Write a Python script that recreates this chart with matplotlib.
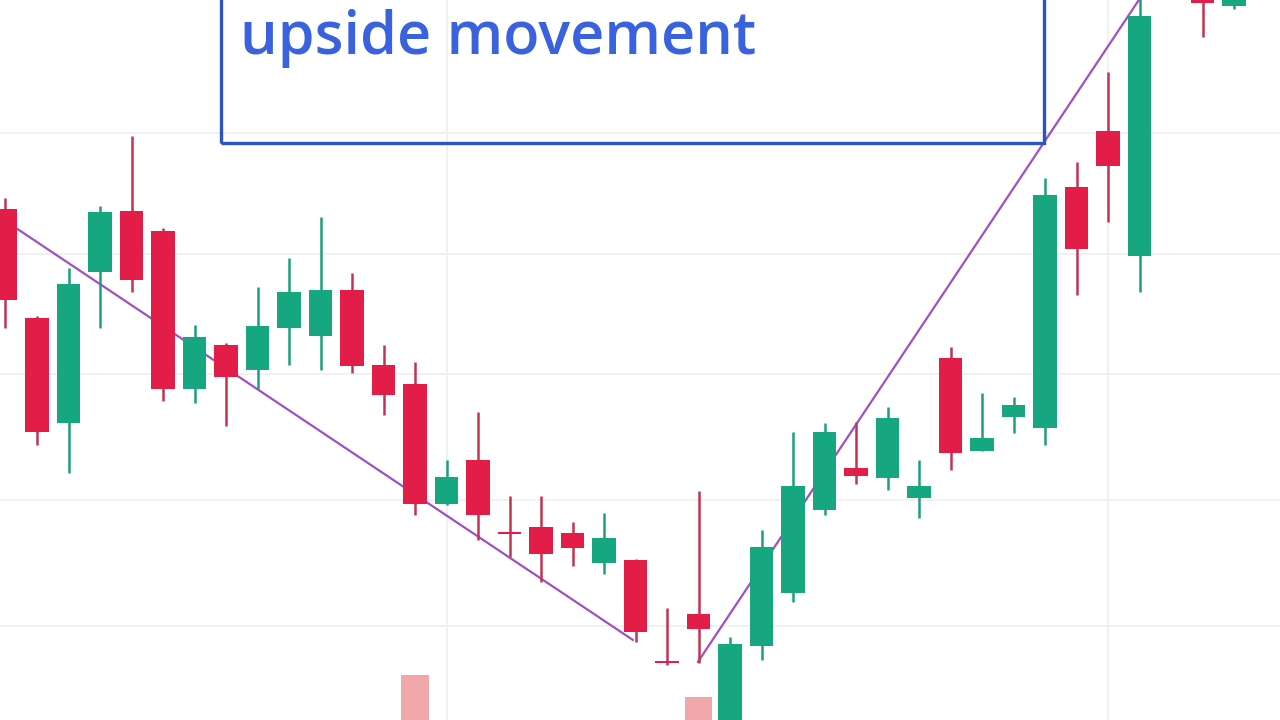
import matplotlib
matplotlib.use("Agg")
import matplotlib.pyplot as plt
from matplotlib.patches import Rectangle

# ---- data (candles, left to right) ----
opens  = [1511,1402,1297,1448,1509,1489,1331,1375,1350,1392,1384,1430,1355,1336,1216,1260,1188,1193,1187,1157,
          1160,1059,1106,980,1074,1127,1210,1252,1242,1222,1362,1269,1303,1292,1533,1589,1464,1740,1752,1714]
highs  = [1522,1404,1452,1514,1584,1492,1395,1377,1433,1462,1503,1447,1375,1358,1260,1308,1224,1224,1198,1207,
          1161,1112,1229,1083,1190,1288,1297,1298,1313,1260,1373,1327,1323,1542,1558,1648,1725,1772,1760,1750]
lows   = [1392,1275,1247,1392,1428,1319,1317,1294,1331,1355,1350,1347,1305,1205,1215,1180,1163,1138,1154,1146,
          1078,1055,1057,970,1060,1118,1205,1236,1230,1202,1250,1269,1287,1275,1425,1498,1428,1732,1683,1711]
closes = [1420,1288,1436,1508,1440,1331,1383,1343,1394,1428,1430,1354,1325,1216,1243,1205,1186,1166,1172,1182,
          1088,1057,1091,1076,1173,1234,1288,1244,1302,1234,1267,1282,1315,1525,1471,1554,1704,1758,1717,1740]

# visible volume bars (index, volume)
vol_index = [13, 22]
volumes = [1.0e6, 0.51e6]

# trend lines drawn on the chart (candle index, price)
trend1_x = [0.38, 19.92]
trend1_y = [1491, 1080]
trend2_x = [21.98, 36.0]
trend2_y = [1058, 1721]

# price grid levels and time grid positions
grid_prices = [1094, 1220, 1346, 1466, 1587]
grid_times = [14, 35]

# annotation box and text
box_x = [6.84, 32.97]
box_y = [1577, 1800]
note_text = "upside movement"
note_x = 7.45
note_y = 1666

# ---- style ----
GREEN = "#16a680"
RED = "#e11d48"
GREEN_WICK = "#1c9f7e"
RED_WICK = "#c23350"
VOL_RED = "#efa7a9"
TREND = "#a050c4"
BOX = "#2d52c2"
TEXT = "#3a62df"

fig = plt.figure(figsize=(12.8, 7.2), dpi=100)
ax_vol = fig.add_axes([0, 0, 1, 1])
ax = fig.add_axes([0, 0, 1, 1])
ax.patch.set_visible(False)
fig.patch.set_facecolor("white")

xmin, xmax = -0.1746, 40.46
ax.set_xlim(xmin, xmax)
ax.set_ylim(1000, 1720)
ax_vol.set_xlim(xmin, xmax)
ax_vol.set_ylim(0, 16e6)

for a in (ax, ax_vol):
    a.set_xticks([])
    a.set_yticks([])
    for s in a.spines.values():
        s.set_visible(False)

# grid
for gp in grid_prices:
    ax.axhline(gp, color="#f0f0f0", lw=1.3, zorder=0)
for gt in grid_times:
    ax.axvline(gt, color="#f0f0f0", lw=1.3, zorder=0)

# volume
ax_vol.bar(vol_index, volumes, width=0.86, color=VOL_RED, zorder=1)

# trend lines (beneath the candles)
ax.plot(trend1_x, trend1_y, color=TREND, lw=1.6, zorder=1.5, solid_capstyle="round")
ax.plot(trend2_x, trend2_y, color=TREND, lw=1.6, zorder=1.5, solid_capstyle="round")

# candles
body_w = 0.76
for i, (o, h, l, c) in enumerate(zip(opens, highs, lows, closes)):
    up = c >= o
    col = GREEN if up else RED
    wcol = GREEN_WICK if up else RED_WICK
    ax.vlines(i, l, h, color=wcol, lw=1.8, zorder=2)
    bottom = min(o, c)
    height = max(abs(c - o), 2.2)
    ax.bar(i, height, bottom=bottom, width=body_w, color=col, zorder=3, linewidth=0)

# annotation box
ax.add_patch(Rectangle((box_x[0], box_y[0]), box_x[1] - box_x[0], box_y[1] - box_y[0],
                       fill=False, edgecolor=BOX, lw=2.4, zorder=5))

t = ax.text(note_x, note_y, note_text, color=TEXT, fontsize=44, family="Open Sans",
            fontweight="semibold", va="baseline", ha="left", zorder=6)
fig.canvas.draw()
bb = t.get_window_extent(renderer=fig.canvas.get_renderer())
t.set_fontsize(44 * 516.0 / bb.width)

fig.savefig("out.png", dpi=100, facecolor="white")
